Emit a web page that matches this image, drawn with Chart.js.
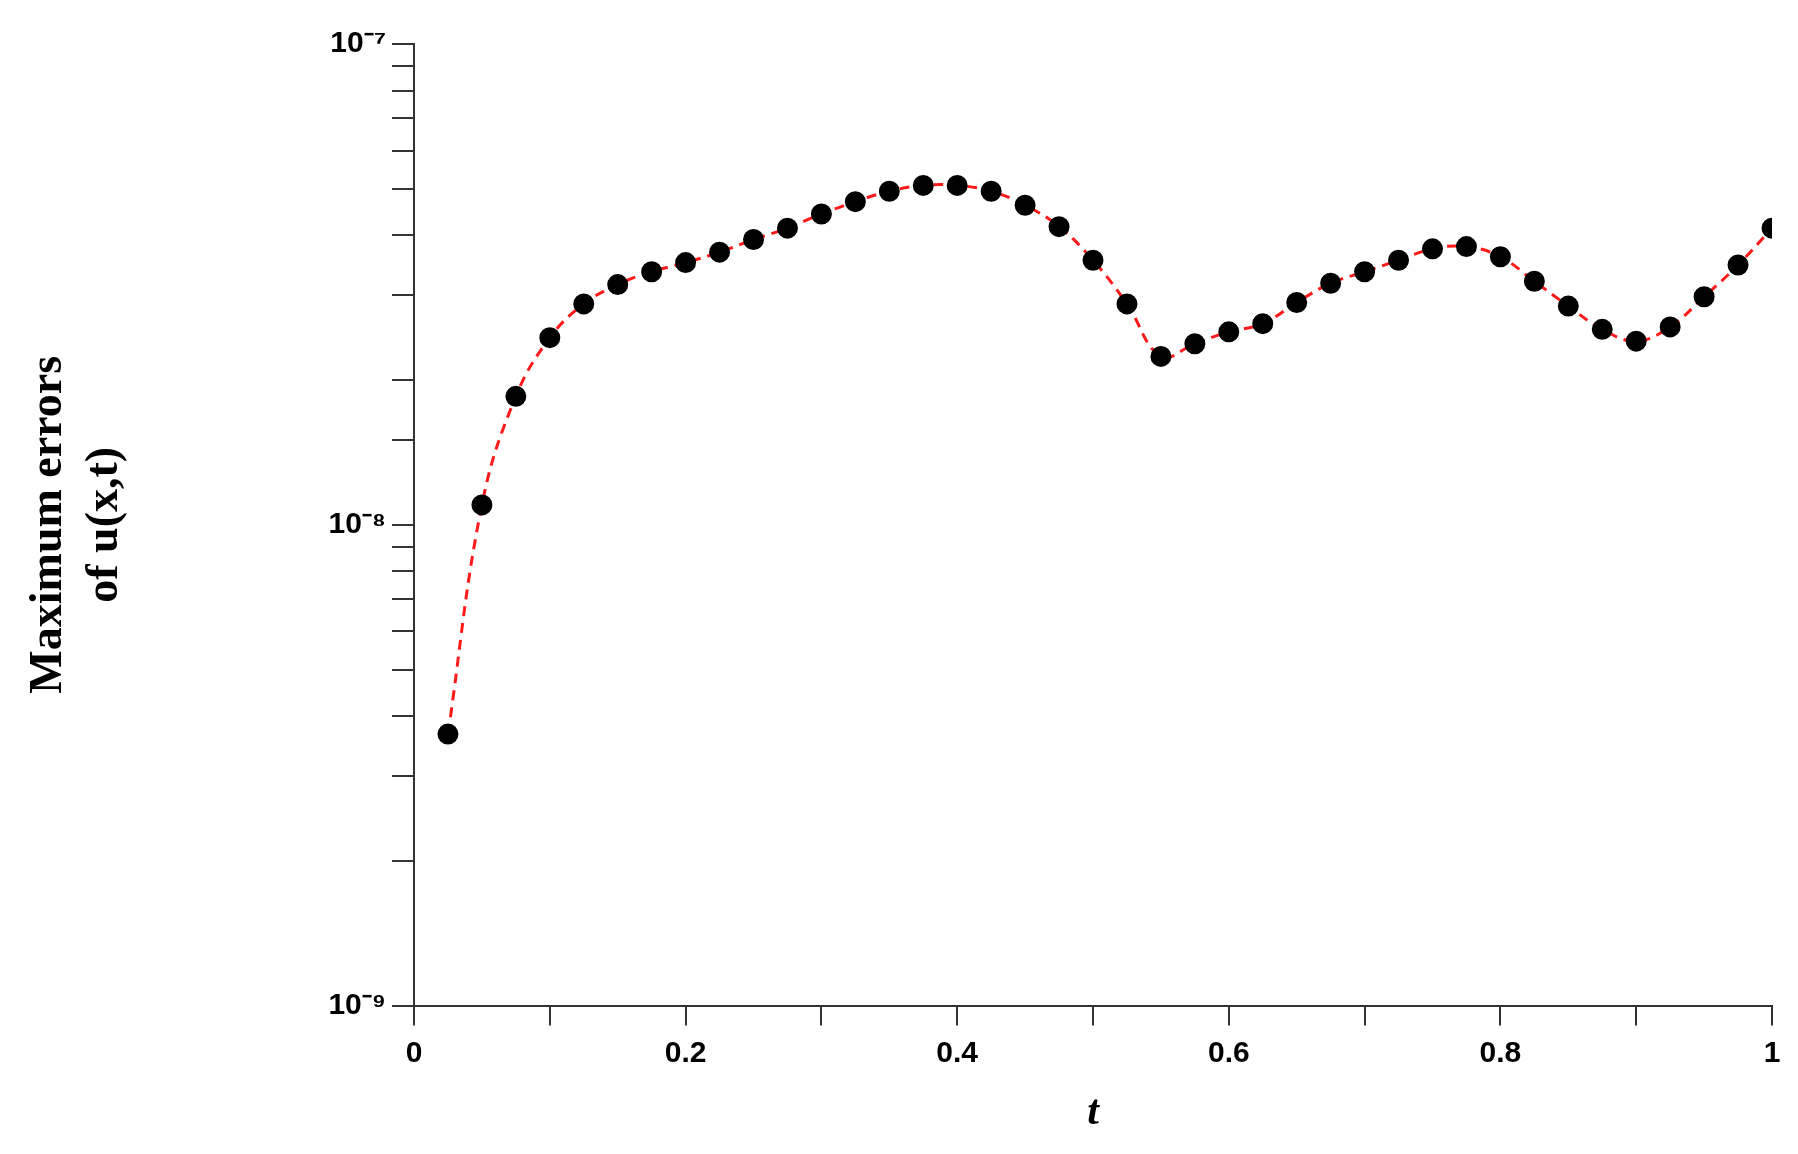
<!DOCTYPE html>
<html>
<head>
<meta charset="utf-8">
<script src="https://cdn.jsdelivr.net/npm/chart.js@4.4.0/dist/chart.umd.min.js"></script>
<style>
  html, body { margin: 0; padding: 0; background: #fff; }
  #wrap { width: 1798px; height: 1154px; }
</style>
</head>
<body>
<div id="wrap"><canvas id="chart"></canvas></div>
<script>
// t values and maximum errors
const tValues = [0.025, 0.05, 0.075, 0.1, 0.125, 0.15, 0.175, 0.2, 0.225, 0.25,
  0.275, 0.3, 0.325, 0.35, 0.375, 0.4, 0.425, 0.45, 0.475, 0.5,
  0.525, 0.55, 0.575, 0.6, 0.625, 0.65, 0.675, 0.7, 0.725, 0.75,
  0.775, 0.8, 0.825, 0.85, 0.875, 0.9, 0.925, 0.95, 0.975, 1.0];
const maxErrors = [3.67e-9, 1.10e-8, 1.85e-8, 2.45e-8, 2.88e-8, 3.16e-8, 3.36e-8, 3.51e-8, 3.69e-8, 3.92e-8,
  4.14e-8, 4.43e-8, 4.70e-8, 4.94e-8, 5.08e-8, 5.08e-8, 4.94e-8, 4.62e-8, 4.17e-8, 3.55e-8,
  2.88e-8, 2.24e-8, 2.38e-8, 2.52e-8, 2.62e-8, 2.90e-8, 3.18e-8, 3.36e-8, 3.55e-8, 3.75e-8,
  3.79e-8, 3.61e-8, 3.21e-8, 2.85e-8, 2.55e-8, 2.41e-8, 2.58e-8, 2.98e-8, 3.47e-8, 4.14e-8];
const xTickLabels = ['0', '0.2', '0.4', '0.6', '0.8', '1'];
const yTickLabels = { '-9': '10⁻⁹', '-8': '10⁻⁸', '-7': '10⁻⁷' };

const tickFont = { family: 'Liberation Sans', size: 30, weight: 'bold' };

new Chart(document.getElementById('chart'), {
  type: 'line',
  data: {
    datasets: [{
      data: tValues.map((t, i) => ({ x: t, y: maxErrors[i] })),
      borderColor: '#ff1a1a',
      borderWidth: 3,
      borderDash: [10, 7],
      tension: 0.4,
      pointRadius: 9,
      pointBackgroundColor: '#000',
      pointBorderColor: '#000',
      fill: false
    }]
  },
  options: {
    responsive: true,
    maintainAspectRatio: false,
    animation: false,
    layout: { padding: { left: 18, right: 26, top: 44, bottom: 12 } },
    plugins: { legend: { display: false }, tooltip: { enabled: false } },
    scales: {
      x: {
        type: 'linear', min: 0, max: 1,
        border: { color: '#333', width: 2 },
        grid: { drawOnChartArea: false, tickLength: 20, tickColor: '#333', lineWidth: 2 },
        ticks: {
          stepSize: 0.1, color: '#000', font: tickFont, padding: 10, autoSkip: false, maxRotation: 0,
          callback: v => {
            const s = String(Math.round(v * 10) / 10);
            return xTickLabels.includes(s) ? s : '';
          }
        },
        title: { display: true, text: 't', color: '#000', padding: { top: 6 },
          font: { family: 'Liberation Serif', size: 42, weight: 'bold', style: 'italic' } }
      },
      y: {
        type: 'logarithmic', min: 1e-9, max: 1e-7,
        border: { color: '#333', width: 2 },
        grid: { drawOnChartArea: false, tickLength: 22, tickColor: '#333', lineWidth: 2 },
        ticks: {
          color: '#000', font: tickFont, padding: 6, autoSkip: false,
          callback: v => {
            const e = Math.log10(v);
            const r = Math.round(e);
            return Math.abs(e - r) < 1e-6 ? (yTickLabels[String(r)] || '') : '';
          }
        },
        title: { display: true, text: ['Maximum errors', 'of u(x,t)'], color: '#000', padding: { bottom: 190 },
          font: { family: 'Liberation Serif', size: 46, weight: 'bold' } }
      }
    }
  }
});
</script>
</body>
</html>
